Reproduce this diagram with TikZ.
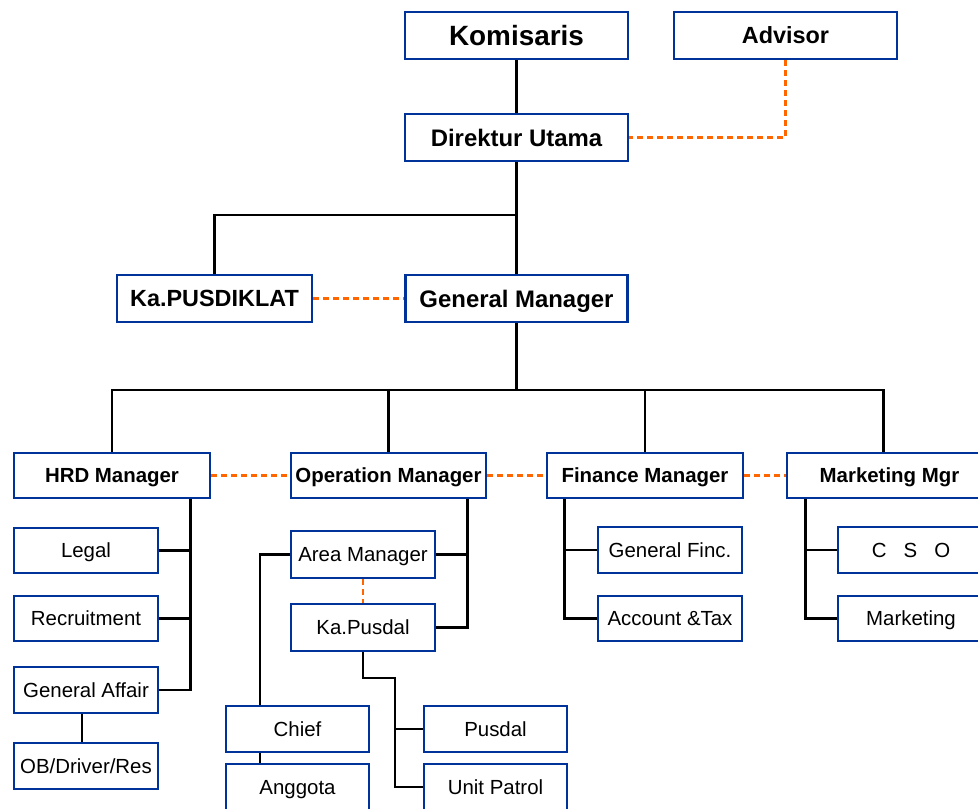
\documentclass[tikz,border=0pt]{standalone}
\usepackage{fontspec}
\setmainfont{Liberation Sans}
\definecolor{boxblue}{RGB}{0,51,153}
\definecolor{dashorange}{RGB}{255,102,0}
\begin{document}
\begin{tikzpicture}[x=1bp,y=-1bp,
 box/.style={draw=boxblue, line width=2.6bp, fill=white, inner sep=0pt, text height=19.7bp, text depth=5bp, font=\fontsize{20.5}{24}\selectfont},
 mgr/.style={box, minimum height=45bp, font=\fontsize{20.5}{24}\selectfont\bfseries},
 top/.style={box, minimum width=223bp, minimum height=47bp, text height=22.2bp, font=\fontsize{24}{28}\selectfont\bfseries},
 topm/.style={top, text height=21.8bp, font=\fontsize{23.5}{28}\selectfont\bfseries},
 sub/.style={box, minimum width=144bp, minimum height=46bp},
 link/.style={line width=2.6bp, black},
 dlink/.style={line width=2.6bp, dashorange, dash pattern=on 6bp off 4bp}]
\useasboundingbox (0,0) rectangle (978,809);

% top levels
\node[top, text height=25bp, font=\fontsize{28}{32}\selectfont\bfseries] (kom) at (516.5,35.5) {Komisaris};
\node[topm] (adv) at (785.5,35.5) {Advisor};
\node[top] (dir) at (516.5,137.5) {Direktur Utama};
\node[topm, minimum width=195bp] (pus) at (214.5,298.5) {Ka.PUSDIKLAT};
\node[top, minimum width=222bp] (gm) at (516.5,298.5) {General Manager};

% managers
\node[mgr, minimum width=196bp] (hrd) at (112,475.5) {HRD Manager};
\node[mgr, minimum width=195bp] (ops) at (388.5,475.5) {Operation Manager};
\node[mgr, minimum width=196bp] (fin) at (645,475.5) {Finance Manager};
\node[mgr, minimum width=205bp] (mkt) at (889.5,475.5) {Marketing Mgr};

% HRD children
\node[sub, minimum height=45bp] (legal) at (86,550.5) {Legal};
\node[sub, minimum height=45bp] (recr) at (86,618.5) {Recruitment};
\node[sub] (ga) at (86,690) {General Affair};
\node[sub] (ob) at (86,766) {OB/Driver/Res};

% Operation children
\node[sub, minimum height=47bp] (area) at (363,554.5) {Area Manager};
\node[sub, minimum height=47bp] (kap) at (363,627.5) {Ka.Pusdal};
\node[sub, minimum width=143bp] (chief) at (297.5,729) {Chief};
\node[sub, minimum width=143bp] (angg) at (297.5,787) {Anggota};
\node[sub, minimum width=143bp] (pusdal) at (495.5,729) {Pusdal};
\node[sub, minimum width=143bp] (unit) at (495.5,787) {Unit Patrol};

% Finance children
\node[sub] (genf) at (670,550) {General Finc.};
\node[sub, minimum height=45bp] (acct) at (670,618.5) {Account \&Tax};

% Marketing children
\node[sub, minimum width=146bp] (cso) at (911,550) {C~~~S~~~O};
\node[sub, minimum width=146bp, minimum height=45bp] (mark) at (911,618.5) {Marketing};

% connectors top
\draw[link] (kom.south) -- (dir.north);
\draw[dlink] (adv.south) |- (dir.east);
\coordinate (j1) at (516.5,215);
\draw[link] (dir.south) -- (gm.north);
\draw[link] (pus.north) |- (j1);
\draw[dlink] (pus.east) -- (gm.west);

% GM to managers
\coordinate (j2) at (516.5,390);
\coordinate (mtop) at ([xshift=98bp]mkt.north west);
\draw[link] (gm.south) -- (j2);
\draw[link] (hrd.north) |- (mtop |- j2) -- (mtop);
\draw[link] (ops.north) -- (ops.north |- j2);
\draw[link] (fin.north) -- (fin.north |- j2);

\draw[dlink] (hrd.east) -- (ops.west);
\draw[dlink] (ops.east) -- (fin.west);
\draw[dlink] (fin.east) -- (mkt.west);

% HRD
\coordinate (hv) at ([xshift=-21bp]hrd.south east);
\draw[link] (hv) |- (ga.east);
\draw[link] (legal.east) -- (legal.east -| hv);
\draw[link] (recr.east) -- (recr.east -| hv);
\draw[link] ([xshift=-4bp]ga.south) -- ([xshift=-4bp]ob.north);

% Operation
\coordinate (ov) at ([xshift=-20bp]ops.south east);
\draw[link] (ov) |- (kap.east);
\draw[link] (area.east) -- (area.east -| ov);
\draw[dlink] (area.south) -- (kap.north);
\coordinate (cv) at ([xshift=-37.5bp]chief.north);
\draw[link] (area.west) -| (cv);
\draw[link] (chief.south -| cv) -- (angg.north -| cv);
\coordinate (pk) at (395,678);
\draw[link] (kap.south) |- (pk) |- (unit.west);
\draw[link] (pusdal.west) -- (pusdal.west -| pk);

% Finance
\coordinate (fv) at ([xshift=19bp]fin.south west);
\draw[link] (fv) |- (acct.west);
\draw[link] (genf.west) -- (genf.west -| fv);

% Marketing
\coordinate (mv) at ([xshift=20bp]mkt.south west);
\draw[link] (mv) |- (mark.west);
\draw[link] (cso.west) -- (cso.west -| mv);
\end{tikzpicture}
\end{document}
